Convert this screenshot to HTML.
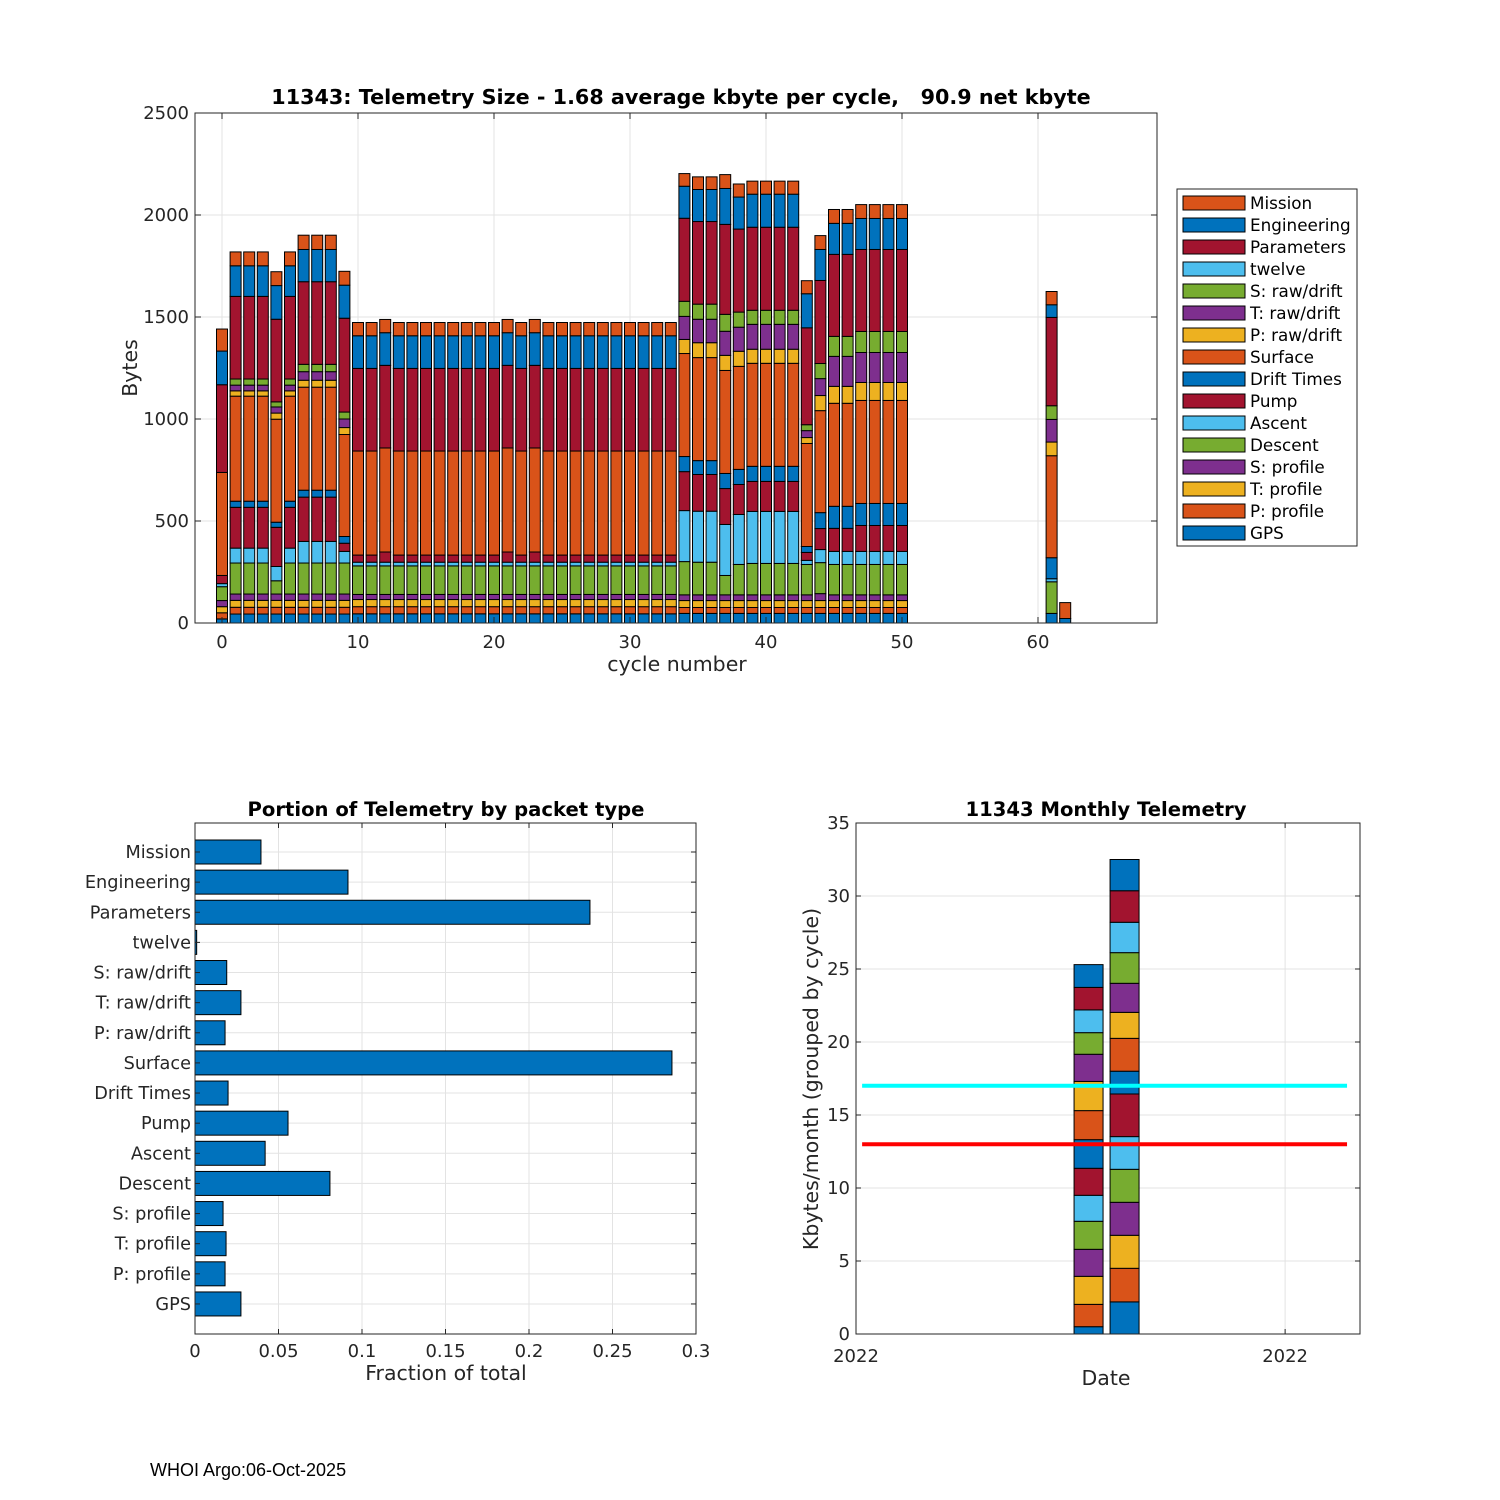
<!DOCTYPE html>
<html><head><meta charset="utf-8"><style>
html,body{margin:0;padding:0;background:#fff;}
svg{display:block;font-family:"DejaVu Sans","Liberation Sans",sans-serif;}
</style></head><body>
<svg id="fig" width="1500" height="1500" viewBox="0 0 1500 1500" xmlns="http://www.w3.org/2000/svg">
<rect x="0" y="0" width="1500" height="1500" fill="#fff"/>
<text x="150" y="1476" font-size="18" font-family="Liberation Sans, sans-serif" fill="#000">WHOI Argo:06-Oct-2025</text>
</svg>
<script>
// ---------- top chart data ----------
const cycles = [0,1,2,3,4,5,6,7,8,9,10,11,12,13,14,15,16,17,18,19,20,21,22,23,24,25,26,27,28,29,30,31,32,33,34,35,36,37,38,39,40,41,42,43,44,45,46,47,48,49,50,61,62];
const seriesNames = ["GPS","P: profile","T: profile","S: profile","Descent","Ascent","Pump","Drift Times","Surface","P: raw/drift","T: raw/drift","S: raw/drift","twelve","Parameters","Engineering","Mission"];
const gps =      [20,44,44,44,44,44,44,44,44,44, 45,45,45,45,45,45,45,45,45,45,45,45,45,45,45,45,45,45,45,45,45,45,45,45, 47,47,47,47,47,47,47,47,47,47,47,47,47,47,47,47,47, 47,22];
const pProfile = [30,33,33,33,33,33,33,33,33,33, 35,35,35,35,35,35,35,35,35,35,35,35,35,35,35,35,35,35,35,35,35,35,35,35, 29,29,29,29,29,29,29,29,29,29,29,29,29,29,29,29,29, 0,0];
const tProfile = [30,34,34,34,34,34,34,34,34,34, 35,35,35,35,35,35,35,35,35,35,35,35,35,35,35,35,35,35,35,35,35,35,35,35, 34,34,34,34,34,34,34,34,34,34,34,34,34,34,34,34,34, 0,0];
const sProfile = [30,31,31,31,31,31,31,31,31,31, 25,25,25,25,25,25,25,25,25,25,25,25,25,25,25,25,25,25,25,25,25,25,25,25, 28,28,28,28,28,28,28,28,28,28,34,28,28,28,28,28,28, 0,0];
const descent =  [68,152,152,152,65,152,152,152,152,152, 140,140,140,140,140,140,140,140,140,140,140,140,140,140,140,140,140,140,140,140,140,140,140,140, 163,160,160,95,149,154,154,154,154,149,152,149,149,149,149,149,149, 155,0];
const ascent =   [15,73,73,73,70,73,106,106,106,57, 18,18,18,18,18,18,18,18,18,18,18,18,18,18,18,18,18,18,18,18,18,18,18,18, 250,250,250,250,245,255,255,255,255,20,64,64,64,64,64,64,64, 15,0];
const pump =     [40,200,200,200,192,200,217,217,217,40, 35,35,50,35,35,35,35,35,35,35,35,50,35,50,35,35,35,35,35,35,35,35,35,35, 191,180,180,176,147,147,147,147,147,39,103,113,113,127,127,127,127, 0,0];
const driftTimes=[0,30,30,30,25,30,34,34,34,33, 0,0,0,0,0,0,0,0,0,0,0,0,0,0,0,0,0,0,0,0,0,0,0,0, 74,68,68,74,74,74,74,74,74,29,78,108,108,108,108,108,108, 103,0];
const surface =  [505,515,515,515,505,515,505,505,505,500, 510,510,510,510,510,510,510,510,510,510,510,510,510,510,510,510,510,510,510,510,510,510,510,510, 505,505,505,505,505,505,505,505,505,505,500,505,505,505,505,505,505, 500,0];
const pRaw =     [0,26,26,26,30,26,34,34,34,34, 0,0,0,0,0,0,0,0,0,0,0,0,0,0,0,0,0,0,0,0,0,0,0,0, 69,73,73,74,74,69,69,69,69,29,74,83,83,88,88,88,88, 67,0];
const tRaw =     [0,28,28,28,30,28,42,42,42,42, 0,0,0,0,0,0,0,0,0,0,0,0,0,0,0,0,0,0,0,0,0,0,0,0, 113,115,115,118,118,122,122,122,122,34,83,147,147,147,147,147,147, 111,0];
const sRaw =     [0,30,30,30,25,30,36,36,36,34, 0,0,0,0,0,0,0,0,0,0,0,0,0,0,0,0,0,0,0,0,0,0,0,0, 74,74,74,83,74,69,69,69,69,29,74,98,98,103,103,103,103, 67,0];
const twelve =   [0,0,0,0,0,0,0,0,0,0, 0,0,0,0,0,0,0,0,0,0,0,0,0,0,0,0,0,0,0,0,0,0,0,0, 0,0,0,0,0,0,0,0,0,0,0,0,0,0,0,0,0, 0,0];
const parameters=[430,405,405,405,405,405,405,405,405,460, 405,405,405,405,405,405,405,405,405,405,405,405,405,405,405,405,405,405,405,405,405,405,405,405, 407,405,405,441,407,407,407,407,407,475,407,402,402,402,402,402,402, 433,0];
const engineering=[165,150,150,150,165,150,158,158,158,162, 160,160,160,160,160,160,160,160,160,160,160,160,160,160,160,160,160,160,160,160,160,160,160,160, 157,157,157,176,157,162,162,162,162,167,152,152,152,152,152,152,152, 62,0];
const mission =  [108,68,68,68,68,68,70,70,70,68, 65,65,65,65,65,65,65,65,65,65,65,65,65,65,65,65,65,65,65,65,65,65,65,65, 62,62,62,68,64,64,64,64,64,64,68,68,68,68,68,68,68, 65,78];
const xTicks = [0,10,20,30,40,50,60];
const yTicks = [0,500,1000,1500,2000,2500];

// ---------- bottom-left data ----------
const packetTypes = ["Mission","Engineering","Parameters","twelve","S: raw/drift","T: raw/drift","P: raw/drift","Surface","Drift Times","Pump","Ascent","Descent","S: profile","T: profile","P: profile","GPS"];
const fractions = [0.0395,0.0916,0.2365,0.001,0.019,0.0275,0.018,0.2856,0.0198,0.0557,0.042,0.0808,0.0168,0.0186,0.018,0.0275];
const fracTicks = [0,0.05,0.1,0.15,0.2,0.25,0.3];
const fracTickLabels = ["0","0.05","0.1","0.15","0.2","0.25","0.3"];

// ---------- bottom-right data ----------
const monthPos = [6.46,7.46];
const monthA = [0.5,1.53,1.92,1.85,1.92,1.78,1.85,1.96,1.99,2.0,1.86,1.48,1.56,1.54,1.56];
const monthB = [2.2,2.3,2.26,2.26,2.26,2.24,2.92,1.56,2.25,1.78,1.99,2.1,2.08,2.16,2.14];
const kTicks = [0,5,10,15,20,25,30,35];
const dateTicks = [0,11.92];
const dateTickLabels = ["2022","2022"];
const cyanLevel = 17;
const redLevel = 13;

const C = ["#0072BD","#D95319","#EDB120","#7E2F8E","#77AC30","#4DBEEE","#A2142F"];
const seriesData = [gps,pProfile,tProfile,sProfile,descent,ascent,pump,driftTimes,surface,pRaw,tRaw,sRaw,twelve,parameters,engineering,mission];

const svg = document.getElementById('fig');
const NS = "http://www.w3.org/2000/svg";
function mk(tag, attrs, parent){
  const e = document.createElementNS(NS, tag);
  for (const k in attrs) e.setAttribute(k, attrs[k]);
  (parent||svg).appendChild(e);
  return e;
}
function txt(x,y,s,size,anchor,weight,parent){
  const t = mk('text',{x:x,y:y,'font-size':size,'text-anchor':anchor||'middle','fill':'#262626'},parent);
  if (weight) t.setAttribute('font-weight', weight);
  t.textContent = s;
  return t;
}
const TK = 18;

// ===== TOP CHART =====
const T = {l:195,r:1157,t:113,b:623};
const xs = v => 222 + 13.6*v;
const ys = v => T.b - (T.b-T.t)*v/2500;
const gTop = mk('g',{});


for (const v of xTicks){ const l=mk('line',{x1:xs(v),x2:xs(v),y1:T.t,y2:T.b,stroke:'#e3e3e3','stroke-width':1},gTop);   }
for (const v of yTicks){ const l=mk('line',{x1:T.l,x2:T.r,y1:ys(v),y2:ys(v),stroke:'#e3e3e3','stroke-width':1},gTop);   }
const bw = 11;
cycles.forEach((c,i)=>{
  let acc = 0;
  seriesData.forEach((arr,s)=>{
    const v = arr[i];
    if (v<=0) return;
    const r = mk('rect',{x:xs(c)-bw/2,y:ys(acc+v),width:bw,height:ys(acc)-ys(acc+v),fill:C[s%7],stroke:'#000','stroke-width':1},gTop);
    
    
    acc += v;
  });
});
mk('rect',{x:T.l,y:T.t,width:T.r-T.l,height:T.b-T.t,fill:'none',stroke:'#262626','stroke-width':1},gTop);
for (const v of xTicks){
  mk('line',{x1:xs(v),x2:xs(v),y1:T.b,y2:T.b-6,stroke:'#262626'},gTop);
  mk('line',{x1:xs(v),x2:xs(v),y1:T.t,y2:T.t+6,stroke:'#262626'},gTop);
  const t=txt(xs(v),T.b+25,String(v),TK,'middle',null,gTop);  
}
for (const v of yTicks){
  mk('line',{x1:T.l,x2:T.l+6,y1:ys(v),y2:ys(v),stroke:'#262626'},gTop);
  mk('line',{x1:T.r,x2:T.r-6,y1:ys(v),y2:ys(v),stroke:'#262626'},gTop);
  const t=txt(T.l-6,ys(v)+6,String(v),TK,'end',null,gTop);  
}
let tt = txt(681,104,"11343: Telemetry Size - 1.68 average kbyte per cycle,   90.9 net kbyte",20.7,'middle','bold',gTop);
tt.setAttribute('fill','#000'); tt.setAttribute('xml:space','preserve'); tt.style.whiteSpace='pre';
 
tt = txt(677,671,"cycle number",20.5,'middle',null,gTop);
 
tt = txt(0,0,"Bytes",20.5,'middle',null,gTop); tt.setAttribute('transform','translate(137,368) rotate(-90)');
 
// legend
const lg = mk('g',{});


mk('rect',{x:1177,y:189,width:180,height:357,fill:'#fff',stroke:'#262626','stroke-width':1},lg);
for (let k=0;k<16;k++){
  const s = 15-k;
  const y = 203 + 22*k;
  const e = mk('g',{},lg);
  
  
  mk('rect',{x:1183,y:y-7,width:62,height:14,fill:C[s%7],stroke:'#000','stroke-width':1},e);
  const t = txt(1250,y+6,seriesNames[s],16.8,'start',null,e); t.setAttribute('fill','#000');
}

// ===== BOTTOM LEFT =====
const L = {l:195,r:696,t:823,b:1334};
const fx = v => L.l + (L.r-L.l)*v/0.3;
const fy = i => 852 + 30.13*i;
const gBL = mk('g',{});


for (const v of fracTicks){ mk('line',{x1:fx(v),x2:fx(v),y1:L.t,y2:L.b,stroke:'#e3e3e3'},gBL); }
packetTypes.forEach((p,i)=>{ mk('line',{x1:L.l,x2:L.r,y1:fy(i),y2:fy(i),stroke:'#e3e3e3'},gBL); });
packetTypes.forEach((p,i)=>{
  const r = mk('rect',{x:fx(0),y:fy(i)-12,width:fx(fractions[i])-fx(0),height:24,fill:'#0072BD',stroke:'#000','stroke-width':1},gBL);
  
  
  const t = txt(L.l-4,fy(i)+6,p,17.7,'end',null,gBL);
   
  mk('line',{x1:L.l,x2:L.l+5,y1:fy(i),y2:fy(i),stroke:'#262626'},gBL);
  mk('line',{x1:L.r,x2:L.r-5,y1:fy(i),y2:fy(i),stroke:'#262626'},gBL);
});
mk('rect',{x:L.l,y:L.t,width:L.r-L.l,height:L.b-L.t,fill:'none',stroke:'#262626'},gBL);
fracTicks.forEach((v,i)=>{
  mk('line',{x1:fx(v),x2:fx(v),y1:L.b,y2:L.b-5,stroke:'#262626'},gBL);
  mk('line',{x1:fx(v),x2:fx(v),y1:L.t,y2:L.t+5,stroke:'#262626'},gBL);
  const t = txt(fx(v),L.b+23,fracTickLabels[i],TK,'middle',null,gBL);
   
});
tt = txt(446,816,"Portion of Telemetry by packet type",19.6,'middle','bold',gBL); tt.setAttribute('fill','#000');
 
tt = txt(446,1380,"Fraction of total",20.5,'middle',null,gBL);
 

// ===== BOTTOM RIGHT =====
const R = {l:856,r:1360,t:823,b:1334};
const mx = v => R.l + (R.r-R.l)*v/14;
const my = v => R.b - (R.b-R.t)*v/35;
const gBR = mk('g',{});


for (const v of kTicks){ mk('line',{x1:R.l,x2:R.r,y1:my(v),y2:my(v),stroke:'#e3e3e3'},gBR); }
for (const v of dateTicks){ mk('line',{x1:mx(v),x2:mx(v),y1:R.t,y2:R.b,stroke:'#e3e3e3'},gBR); }
[monthA,monthB].forEach((arr,j)=>{
  let acc=0;
  arr.forEach((v,k)=>{
    const r = mk('rect',{x:mx(monthPos[j])-14.5,y:my(acc+v),width:29,height:my(acc)-my(acc+v),fill:C[k%7],stroke:'#000','stroke-width':1},gBR);
    
    
    acc+=v;
  });
});
let ln = mk('line',{x1:mx(0.17),x2:mx(13.64),y1:my(cyanLevel),y2:my(cyanLevel),stroke:'#00FFFF','stroke-width':4},gBR);
 
ln = mk('line',{x1:mx(0.17),x2:mx(13.64),y1:my(redLevel),y2:my(redLevel),stroke:'#FF0000','stroke-width':4},gBR);
 
mk('rect',{x:R.l,y:R.t,width:R.r-R.l,height:R.b-R.t,fill:'none',stroke:'#262626'},gBR);
for (const v of kTicks){
  mk('line',{x1:R.l,x2:R.l+5,y1:my(v),y2:my(v),stroke:'#262626'},gBR);
  mk('line',{x1:R.r,x2:R.r-5,y1:my(v),y2:my(v),stroke:'#262626'},gBR);
  const t = txt(R.l-6,my(v)+6,String(v),TK,'end',null,gBR);
   
}
dateTicks.forEach((v,i)=>{
  mk('line',{x1:mx(v),x2:mx(v),y1:R.b,y2:R.b-5,stroke:'#262626'},gBR);
  mk('line',{x1:mx(v),x2:mx(v),y1:R.t,y2:R.t+5,stroke:'#262626'},gBR);
  const t = txt(mx(v),R.b+28,dateTickLabels[i],TK,'middle',null,gBR);
   
});
tt = txt(1106,816,"11343 Monthly Telemetry",19.6,'middle','bold',gBR); tt.setAttribute('fill','#000');
 
tt = txt(1106,1385,"Date",20.5,'middle',null,gBR);
 
tt = txt(0,0,"Kbytes/month (grouped by cycle)",20.5,'middle',null,gBR); tt.setAttribute('transform','translate(818,1079) rotate(-90)');
 
</script>
</body></html>
